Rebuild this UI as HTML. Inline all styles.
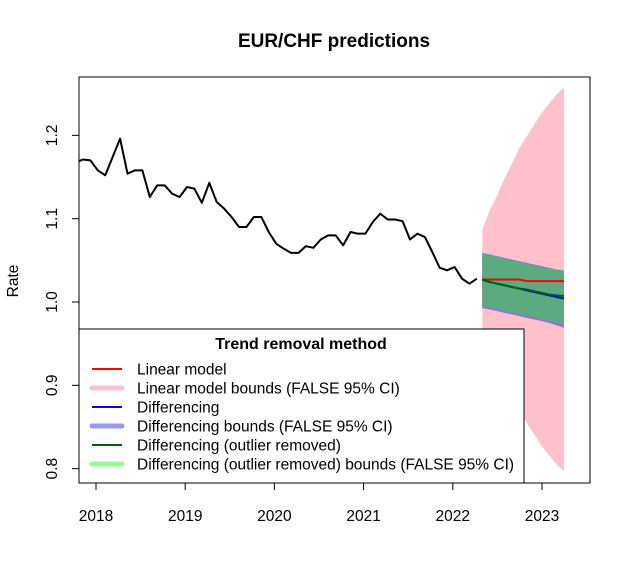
<!DOCTYPE html>
<html><head><meta charset="utf-8"><style>
body{margin:0;background:#fff}
svg{display:block;font-family:"Liberation Sans",sans-serif}
</style></head><body>
<svg id="c" width="631" height="581"></svg>
<script>
const histStart = 2017.77;
const histRates = [1.167,1.171,1.170,1.158,1.152,1.174,1.196,1.154,1.158,1.158,1.126,1.140,1.140,1.130,1.126,1.138,1.136,1.119,1.143,1.120,1.112,1.102,1.090,1.090,1.102,1.102,1.084,1.070,1.064,1.059,1.059,1.067,1.065,1.075,1.080,1.080,1.068,1.084,1.082,1.082,1.096,1.106,1.099,1.099,1.097,1.075,1.082,1.078,1.060,1.041,1.038,1.042,1.028,1.022,1.028];
const fcStart = 2022.33;
const linMean = [1.027,1.027,1.027,1.027,1.027,1.027,1.025,1.025,1.025,1.025,1.025,1.025];
const linUpper = [1.086,1.110,1.128,1.148,1.166,1.185,1.199,1.213,1.227,1.238,1.249,1.257];
const linLower = [0.968,0.944,0.926,0.906,0.888,0.869,0.855,0.841,0.827,0.816,0.805,0.797];
const diffMean = [1.027,1.024,1.022,1.020,1.018,1.016,1.014,1.012,1.010,1.008,1.006,1.004];
const diffUpper = [1.059,1.057,1.055,1.053,1.051,1.049,1.047,1.045,1.043,1.041,1.039,1.037];
const diffLower = [0.993,0.991,0.989,0.987,0.985,0.983,0.981,0.979,0.977,0.975,0.972,0.969];
const outMean = [1.027,1.024,1.022,1.020,1.018,1.016,1.015,1.013,1.011,1.009,1.008,1.007];
const outUpper = [1.058,1.056,1.054,1.052,1.050,1.048,1.046,1.044,1.042,1.040,1.039,1.038];
const outLower = [0.995,0.993,0.991,0.989,0.987,0.985,0.983,0.981,0.979,0.977,0.975,0.973];
const yTicks = [0.8,0.9,1.0,1.1,1.2];
const yTickLabels = ["0.8","0.9","1.0","1.1","1.2"];
const xTicks = [2018,2019,2020,2021,2022,2023];
const legendLabels = ["Linear model","Linear model bounds (FALSE 95% CI)","Differencing","Differencing bounds (FALSE 95% CI)","Differencing (outlier removed)","Differencing (outlier removed) bounds (FALSE 95% CI)"];
const legendColors = ["#ff0000","#ffc0cb","#0000ff","#9999f0","#006400","#98fb98"];
const legendWidths = [2,5,2,5,2,5];

const NS="http://www.w3.org/2000/svg";
const svg=document.getElementById('c');
function X(t){return 96+(t-2018)*89.2;}
function Y(v){return 302-(v-1.0)*833.3;}
function mk(tag,attrs,parent){const e=document.createElementNS(NS,tag);for(const k in attrs)e.setAttribute(k,attrs[k]);(parent||svg).appendChild(e);return e;}
function tx(i,start){return X(start+i/12);}
const clip=mk('clipPath',{id:'pc'});mk('rect',{x:79,y:77,width:511,height:406},clip);
const g=mk('g',{'clip-path':'url(#pc)'});
const addTo=(tag,attrs)=>mk(tag,attrs,g);
(function(){
  const draw=(up,lo,fill,name)=>{let d='';up.forEach((v,i)=>{d+=(i?'L':'M')+tx(i,fcStart)+','+Y(v);});for(let i=lo.length-1;i>=0;i--)d+='L'+tx(i,fcStart)+','+Y(lo[i]);const p=addTo('path',{d:d+'Z',fill:fill});
    
    };
  draw(linUpper,linLower,'#ffc0cb','linear-model-bounds');
  draw(diffUpper,diffLower,'#9370db','differencing-bounds');
  draw(outUpper,outLower,'#5aab7f','outlier-removed-bounds');
  const ln=(vals,start,color,w,name)=>{const p=addTo('polyline',{points:vals.map((v,i)=>tx(i,start)+','+Y(v)).join(' '),fill:'none',stroke:color,'stroke-width':w,'stroke-linejoin':'round'});
    
    };
  ln(histRates,histStart,'#000',2,'historical-rate-line');
  ln(linMean,fcStart,'#ff0000',2,'linear-model-line');
  ln(diffMean,fcStart,'#0000ff',2,'differencing-line');
  ln(outMean,fcStart,'#006400',2,'outlier-removed-line');
})();
const box=mk('rect',{x:79,y:77,width:511,height:406,fill:'none',stroke:'#000','stroke-width':1});


yTicks.forEach((v,i)=>{
  mk('line',{x1:72,x2:79,y1:Y(v),y2:Y(v),stroke:'#000'});
  const t=mk('text',{x:57,y:Y(v),'font-size':15.5,'text-anchor':'middle',transform:`rotate(-90 57 ${Y(v)})`});
  t.textContent=yTickLabels[i];
  
  
});
xTicks.forEach(v=>{
  mk('line',{x1:X(v),x2:X(v),y1:483,y2:490,stroke:'#000'});
  const t=mk('text',{x:X(v),y:521,'font-size':15.5,'text-anchor':'middle'});
  t.textContent=v;
  
  
});
const ttl=mk('text',{x:334,y:47,'font-size':19,'font-weight':'bold','text-anchor':'middle'});
ttl.textContent='EUR/CHF predictions';


const yl=mk('text',{x:18,y:281,'font-size':15.5,'text-anchor':'middle',transform:'rotate(-90 18 281)'});
yl.textContent='Rate';


const lg=mk('g',{});


mk('rect',{x:79,y:329,width:445,height:154,fill:'#fff',stroke:'#000'},lg);
const lt=mk('text',{x:301,y:349,'font-size':16,'font-weight':'bold','text-anchor':'middle'},lg);
lt.textContent='Trend removal method';


legendLabels.forEach((lab,i)=>{
  const y=369+i*19;
  const e=mk('g',{},lg);
  
  
  mk('line',{x1:92,x2:122,y1:y,y2:y,stroke:legendColors[i],'stroke-width':legendWidths[i],'stroke-linecap':legendWidths[i]>2?'round':'butt'},e);
  const t=mk('text',{x:137,y:y+5.5,'font-size':15.5},e);
  t.textContent=lab;
});
</script>
</body></html>
